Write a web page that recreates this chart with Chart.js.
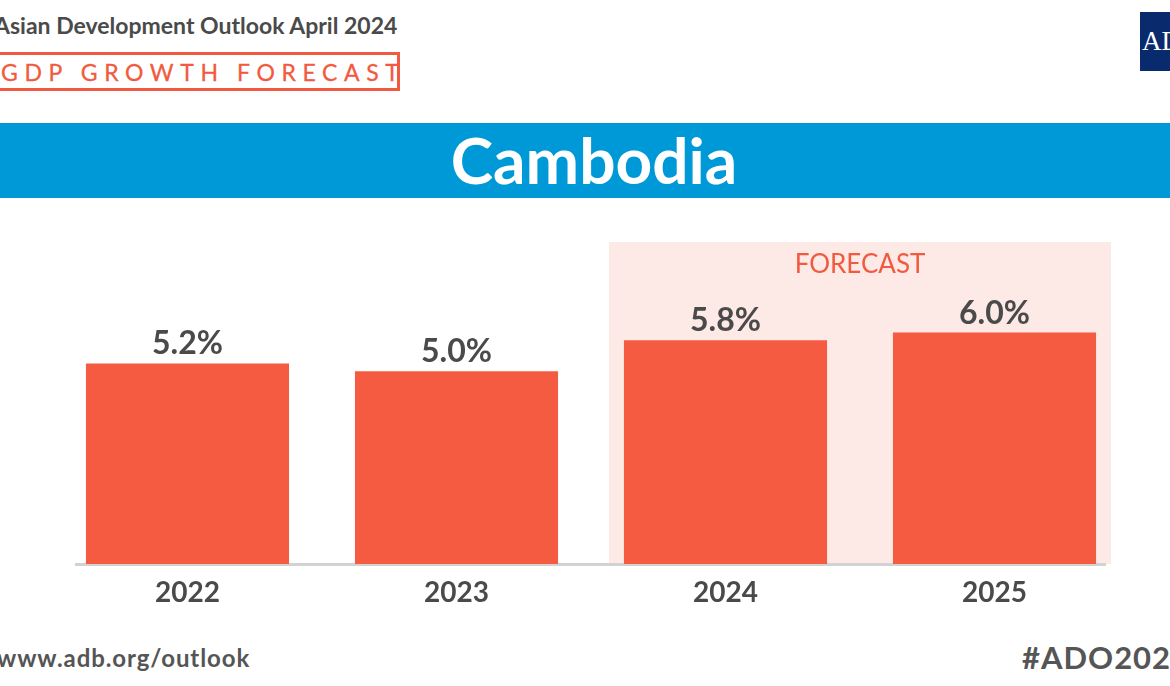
<!DOCTYPE html>
<html>
<head>
<meta charset="utf-8">
<script src="https://cdn.jsdelivr.net/npm/chart.js@4.4.1/dist/chart.umd.min.js"></script>
<style>
  html, body { margin: 0; padding: 0; background: #fff; }
  body { width: 1170px; height: 686px; position: relative; overflow: hidden; font-family: Lato, "Open Sans", sans-serif; }
  .head { position: absolute; left: -6px; top: 11px; font-size: 23px; font-weight: 700; color: #4a4a4a; white-space: nowrap; }
  .tag { position: absolute; left: -20px; top: 52px; width: 414px; height: 33px; border: 3px solid #f15a40; box-sizing: content-box; }
  .tag span { position: absolute; left: 18px; top: 3px; font-size: 23px; color: #f15a40; letter-spacing: 6.6px; white-space: nowrap; -webkit-text-stroke: 0.3px #f15a40; }
  .logo { position: absolute; left: 1140px; top: 12px; width: 40px; height: 59px; background: #0a2a6e; color: #fff; font-family: "Liberation Serif", "DejaVu Serif", serif; font-size: 27px; line-height: 59px; padding-left: 2px; overflow: hidden; }
  .band { position: absolute; left: 0; top: 123px; width: 1170px; height: 75px; background: #0099d8; color: #fff; text-align: center; font-size: 64px; font-weight: 700; line-height: 75px; }
  .band span { position: relative; left: 9px; top: -1px; }
  .url { position: absolute; left: -3px; top: 643px; font-size: 24px; font-weight: 700; color: #555; letter-spacing: 0.9px; }
  .hash { position: absolute; left: 1022px; top: 638px; font-size: 31px; font-weight: 700; color: #555; white-space: nowrap; letter-spacing: 1px; }
  #wrap { position: absolute; left: 0; top: 200px; width: 1170px; height: 420px; }
</style>
</head>
<body>
<div class="head">Asian Development Outlook April 2024</div>
<div class="tag"><span>GDP GROWTH FORECAST</span></div>
<div class="logo">ADB</div>
<div class="band"><span>Cambodia</span></div>
<div id="wrap"><canvas id="myChart"></canvas></div>
<div class="url">www.adb.org/outlook</div>
<div class="hash">#ADO2024</div>

<script>
var years = ["2022", "2023", "2024", "2025"];
var growth = [5.2, 5.0, 5.8, 6.0];
var forecastFrom = 2; // index of first forecast year

var barColor = "#f45b40";
var textGray = "#4a4a4a";

// pink forecast panel + grey baseline, drawn under the bars
var backdrop = {
  id: "backdrop",
  beforeDatasetsDraw: function(chart) {
    var ctx = chart.ctx;
    var bars = chart.getDatasetMeta(0).data;
    var area = chart.chartArea;
    var first = bars[forecastFrom];
    var last = bars[bars.length - 1];
    var left = first.x - first.width / 2 - 15;
    var right = last.x + last.width / 2 + 15;
    ctx.save();
    ctx.fillStyle = "#fde9e5";
    ctx.fillRect(left, area.top + 2, right - left, area.bottom - area.top - 2);
    ctx.fillStyle = "#f15a40";
    ctx.font = "400 26px Lato";
    ctx.textAlign = "center";
    ctx.textBaseline = "alphabetic";
    ctx.fillText("FORECAST", (left + right) / 2, area.top + 33);

    var x0 = bars[0].x - bars[0].width / 2 - 11;
    var x1 = last.x + last.width / 2 + 10;
    ctx.fillStyle = "#d2d2d2";
    ctx.fillRect(x0, area.bottom - 1, x1 - x0, 3);
    ctx.restore();
  }
};

// value labels above each bar
var valueLabels = {
  id: "valueLabels",
  afterDatasetsDraw: function(chart) {
    var ctx = chart.ctx;
    var bars = chart.getDatasetMeta(0).data;
    ctx.save();
    ctx.fillStyle = textGray;
    ctx.font = "700 32px Lato";
    ctx.textAlign = "center";
    ctx.textBaseline = "alphabetic";
    bars.forEach(function(bar, i) {
      ctx.fillText(growth[i].toFixed(1) + "%", bar.x, bar.y - 9);
    });
    ctx.restore();
  }
};

var ctx = document.getElementById("myChart").getContext("2d");
var chart = new Chart(ctx, {
  type: "bar",
  data: {
    labels: years,
    datasets: [{
      data: growth,
      backgroundColor: barColor,
      borderWidth: 0,
      categoryPercentage: 1,
      barPercentage: 0.755
    }]
  },
  options: {
    responsive: true,
    maintainAspectRatio: false,
    animation: false,
    layout: { padding: { left: 53, right: 41, top: 40, bottom: 0 } },
    plugins: { legend: { display: false }, tooltip: { enabled: false } },
    scales: {
      x: {
        grid: { display: false, drawTicks: false },
        border: { display: false },
        ticks: { color: textGray, font: { family: "Lato", size: 28, weight: "700" }, padding: 12 },
        afterFit: function(scale) { scale.height = 56; }
      },
      y: {
        display: false,
        min: 0,
        max: 8.4
      }
    }
  },
  plugins: [backdrop, valueLabels]
});
</script>
</body>
</html>
